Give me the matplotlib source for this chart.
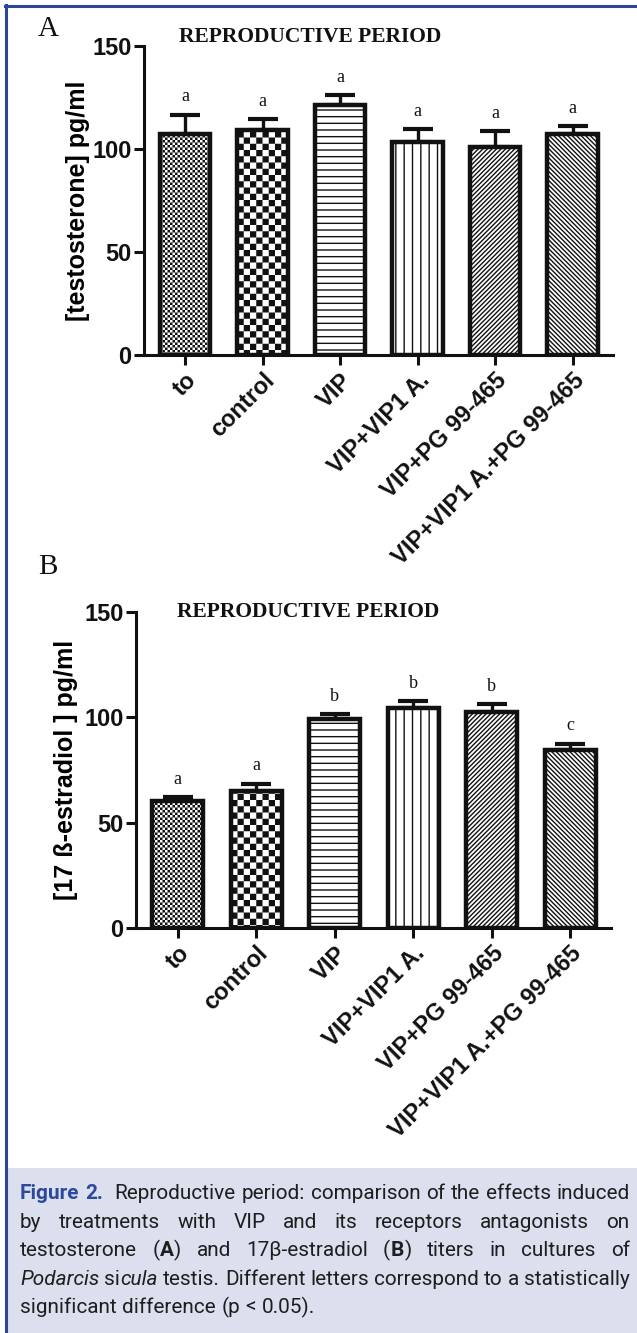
import matplotlib
matplotlib.use('Agg')
import matplotlib.pyplot as plt
import matplotlib.hatch as mhatch
import matplotlib.transforms as mtrans
from matplotlib.path import Path
from matplotlib.patches import Rectangle
from matplotlib.lines import Line2D
from matplotlib import font_manager
import numpy as np

# ---------------- data ----------------
categories = ['to', 'control', 'VIP', 'VIP+VIP1 A.', 'VIP+PG 99-465',
              'VIP+VIP1 A.+PG 99-465']
testosterone_mean = [107.5, 109.0, 121.3, 103.2, 101.1, 107.4]
testosterone_sem = [9.2, 5.5, 4.8, 6.5, 7.4, 3.6]
testosterone_letters = ['a', 'a', 'a', 'a', 'a', 'a']
estradiol_mean = [60.3, 64.9, 99.1, 104.4, 102.4, 84.3]
estradiol_sem = [1.7, 3.5, 2.3, 3.2, 3.9, 3.2]
estradiol_letters = ['a', 'a', 'b', 'b', 'b', 'c']
yticks = [0, 50, 100, 150]
bar_hatches = ['o', 'O', '-', '|', '/', '\\']

W, H = 637, 1333
DPI = 100
BLACK = '#111111'

# ---------------- custom hatch patterns ----------------
HATCH_LW = 1.0
plt.rcParams['hatch.linewidth'] = HATCH_LW
plt.rcParams['hatch.color'] = BLACK
_shrink = HATCH_LW * DPI / 72.0 / DPI


class CheckerHatch(mhatch.HatchPatternBase):
    def __init__(self, hatch, cells, char):
        self.n = cells if char in hatch else 0
        self.num_vertices = (self.n * self.n // 2) * 5 if self.n else 0

    def set_vertices_and_codes(self, vertices, codes):
        n = self.n
        c = 1.0 / n
        s = _shrink / 2
        k = 0
        for i in range(n):
            for j in range(n):
                if (i + j) % 2 == 0:
                    x0, y0 = i * c + s, j * c + s
                    x1, y1 = (i + 1) * c - s, (j + 1) * c - s
                    vertices[k:k + 5] = [(x0, y0), (x1, y0), (x1, y1),
                                         (x0, y1), (x0, y0)]
                    codes[k:k + 5] = [Path.MOVETO, Path.LINETO, Path.LINETO,
                                      Path.LINETO, Path.CLOSEPOLY]
                    k += 5


mhatch._hatch_types = [
    lambda h, d: mhatch.HorizontalHatch(h, 15),
    lambda h, d: mhatch.VerticalHatch(h, 12),
    lambda h, d: mhatch.NorthEastHatch(h, 44),
    lambda h, d: mhatch.SouthEastHatch(h, 44),
    lambda h, d: CheckerHatch(h, 40, 'o'),
    lambda h, d: CheckerHatch(h, 16, 'O'),
]

# ---------------- fonts ----------------
avail = {f.name for f in font_manager.fontManager.ttflist}
SANS = 'Liberation Sans' if 'Liberation Sans' in avail else 'DejaVu Sans'
SERIF = 'Liberation Serif' if 'Liberation Serif' in avail else 'DejaVu Serif'
CAP_FONT = next((f for f in ['Roboto', 'Lato', 'Noto Sans']
                 if f in avail), 'DejaVu Sans')

fig = plt.figure(figsize=(W / DPI, H / DPI), dpi=DPI)
fig.patch.set_facecolor('white')


def px_box(left, top, right, bottom):
    return [left / W, 1 - bottom / H, (right - left) / W, (bottom - top) / H]


def draw_panel(rect, means, sems, letters, ylabel, ylabel_x_px):
    ax = fig.add_axes(rect)
    x = np.arange(len(categories))
    ax.errorbar(x, means, yerr=[np.zeros(len(sems)), sems], fmt='none',
                ecolor=BLACK, elinewidth=2.4, capsize=11, capthick=3.0,
                zorder=1.5)
    bars = ax.bar(x, means, width=0.65, color='white', edgecolor=BLACK,
                  linewidth=3.2, zorder=2)
    for b, h in zip(bars, bar_hatches):
        b.set_hatch(h)
    for xi, m, s, lt in zip(x, means, sems, letters):
        ax.text(xi, m + s + 4.5, lt, ha='center', va='bottom',
                fontfamily=SERIF, fontsize=13, color=BLACK)
    ax.set_xlim(-0.53, 5.52)
    ax.set_ylim(0, 150)
    ax.set_yticks(yticks)
    ax.set_yticklabels([str(t) for t in yticks], fontfamily=SANS,
                       fontweight='bold', fontsize=17)
    ax.set_xticks(x)
    ax.set_xticklabels(categories, rotation=45, ha='right',
                       rotation_mode='anchor', fontfamily=SANS,
                       fontweight='bold', fontsize=17)
    off = mtrans.ScaledTranslation(8 / 72, 0, fig.dpi_scale_trans)
    for lab in ax.get_xticklabels():
        lab.set_transform(lab.get_transform() + off)
    for sp in ['top', 'right']:
        ax.spines[sp].set_visible(False)
    for sp in ['left', 'bottom']:
        ax.spines[sp].set_linewidth(2.2)
        ax.spines[sp].set_color(BLACK)
    ax.tick_params(axis='both', direction='out', length=7, width=2.2,
                   color=BLACK, labelcolor=BLACK, pad=2)
    ax.tick_params(axis='x', pad=3)
    ax.set_facecolor('none')
    ax.set_ylabel(ylabel, fontfamily=SANS, fontweight='bold', fontsize=18,
                  va='center')
    axw = rect[2] * W
    axl = rect[0] * W
    ax.yaxis.set_label_coords((ylabel_x_px - axl) / axw, 0.5)
    return ax


axA = draw_panel(px_box(144, 46, 613, 355), testosterone_mean,
                 testosterone_sem, testosterone_letters,
                 '[testosterone] pg/ml', 78)
axB = draw_panel(px_box(136, 612, 611, 928), estradiol_mean,
                 estradiol_sem, estradiol_letters,
                 '[17 ß-estradiol ] pg/ml', 66)

# titles and panel letters
fig.text(310 / W, 1 - 37.5 / H, 'REPRODUCTIVE PERIOD', ha='center',
         va='center', fontfamily=SERIF, fontweight='bold', fontsize=15.5,
         color=BLACK)
fig.text(308 / W, 1 - 612 / H, 'REPRODUCTIVE PERIOD', ha='center',
         va='center', fontfamily=SERIF, fontweight='bold', fontsize=15.5,
         color=BLACK)
fig.text(38 / W, 1 - 29 / H, 'A', ha='left', va='center', fontfamily=SERIF,
         fontsize=21, color=BLACK)
fig.text(38 / W, 1 - 567 / H, 'B', ha='left', va='center', fontfamily=SERIF,
         fontsize=21, color=BLACK)

# frame and caption background
BLUE = '#2c4596'
fig.add_artist(Rectangle((8 / W, 0), (W - 8) / W, (H - 1168) / H,
                         transform=fig.transFigure, facecolor='#dcdfee',
                         edgecolor='none', zorder=0))
fig.add_artist(Line2D([5 / W, 1], [1 - 6 / H, 1 - 6 / H],
                      transform=fig.transFigure, color=BLUE, lw=2.2))
fig.add_artist(Line2D([6 / W, 6 / W], [1 - 5 / H, 0],
                      transform=fig.transFigure, color=BLUE, lw=2.2))

# ---------------- caption (justified) ----------------
FIGBLUE = '#2b4a9c'
TXT = '#1e1e1e'
styles = {
    'n': dict(fontweight='normal', fontstyle='normal', color=TXT),
    'f': dict(fontweight='bold', fontstyle='normal', color=FIGBLUE),
    'B': dict(fontweight='bold', fontstyle='normal', color=TXT),
    'i': dict(fontweight='normal', fontstyle='italic', color=TXT),
}


def w(*runs):
    return list(runs)


def plain(text):
    return [[(t, 'n')] for t in text.split()]


cap_lines = [
    [w(('Figure', 'f')), w(('2.', 'f'))] + plain(
        'Reproductive period: comparison of the effects induced'),
    plain('by treatments with VIP and its receptors antagonists on'),
    plain('testosterone') + [w(('(', 'n'), ('A', 'B'), (')', 'n'))]
    + plain('and 17β-estradiol') + [w(('(', 'n'), ('B', 'B'), (')', 'n'))]
    + plain('titers in cultures of'),
    [w(('Podarcis', 'i')), w(('si', 'n'), ('cula', 'i'))] + plain(
        'testis. Different letters correspond to a statistically'),
    plain('significant difference (p < 0.05).'),
]
justify = [True, True, True, True, False]
extra_spaces = [{1: 1.0}, {}, {}, {}, {}]
baselines = [1199, 1227.6, 1256.2, 1284.8, 1313.4]
X0, X1 = 20, 630

renderer = fig.canvas.get_renderer()


def measure(txt, size, st='n'):
    t = fig.text(0, 0, txt, fontfamily=CAP_FONT, fontsize=size, **styles[st])
    wd = t.get_window_extent(renderer).width
    t.remove()
    return wd


def space_width(size):
    return measure('a a', size) - measure('aa', size)


def line_natural(words, size, extras):
    tot = 0
    for word in words:
        for txt, st in word:
            tot += measure(txt, size, st) + 0.3
    n_sp = len(words) - 1 + sum(extras.values())
    return tot + n_sp * space_width(size)


# choose caption size so that the first line fills the text width naturally
ref_size = 10.0
nat = line_natural(cap_lines[0], ref_size, extra_spaces[0])
CAP_SIZE = ref_size * (X1 - X0) / nat
sp_w = space_width(CAP_SIZE)

for li, words in enumerate(cap_lines):
    yb = 1 - baselines[li] / H
    word_objs = []
    widths = []
    for word in words:
        runs = []
        wsum = 0
        for txt, st in word:
            t = fig.text(0, yb, txt, fontfamily=CAP_FONT, fontsize=CAP_SIZE,
                         va='baseline', ha='left', **styles[st])
            rw = t.get_window_extent(renderer).width
            runs.append((t, wsum))
            wsum += rw + 0.3
        word_objs.append(runs)
        widths.append(wsum)
    n_gaps = len(words) - 1
    ex = extra_spaces[li]
    n_units = n_gaps + sum(ex.values())
    if justify[li] and n_gaps > 0:
        gap = (X1 - X0 - sum(widths)) / n_units
    else:
        gap = sp_w
    xpos = X0
    for wi, runs in enumerate(word_objs):
        for t, dx in runs:
            t.set_x((xpos + dx) / W)
        xpos += widths[wi] + gap * (1 + ex.get(wi, 0))

fig.savefig('out.png', dpi=DPI)
